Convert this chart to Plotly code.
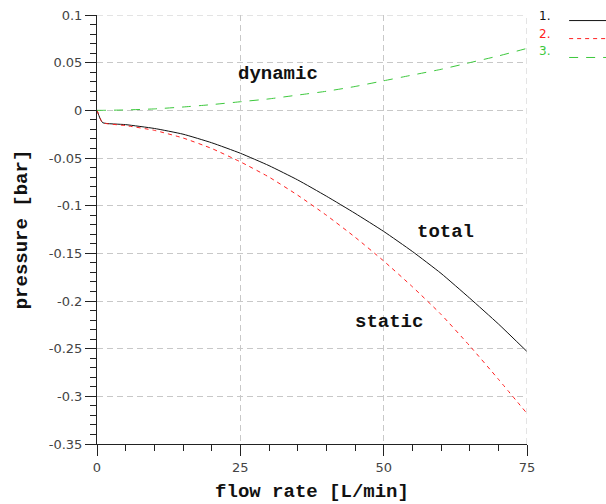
import plotly.graph_objects as go

flow = [0, 0.5, 1, 5, 10, 15, 20, 25, 30, 35, 40, 45, 50, 55, 60, 65, 70, 75]
total = [0, -0.008, -0.013, -0.015, -0.019, -0.025, -0.034, -0.045, -0.058, -0.073,
         -0.090, -0.108, -0.127, -0.148, -0.171, -0.197, -0.224, -0.253]
static = [0, -0.008, -0.013, -0.016, -0.021, -0.029, -0.040, -0.054, -0.070, -0.089,
          -0.110, -0.133, -0.158, -0.185, -0.214, -0.247, -0.282, -0.318]
dynamic = [0, 0, 0, 0.0004, 0.0015, 0.0035, 0.006, 0.009, 0.012, 0.016,
           0.020, 0.025, 0.031, 0.037, 0.043, 0.050, 0.057, 0.065]

series_names = ["1.", "2.", "3."]
series_colors = ["#111111", "#ff2020", "#3cc83c"]
series_dash = ["solid", "4px,4px", "9px,8px"]
curve_labels = ["dynamic", "total", "static"]
label_pos = [(31.6, 0.038), (60.7, -0.128), (51.0, -0.222)]

xticks = [0, 25, 50, 75]
yticks = [0.1, 0.05, 0, -0.05, -0.1, -0.15, -0.2, -0.25, -0.3, -0.35]
ytick_text = ["0.1", "0.05", "0", "-0.05", "-0.1", "-0.15", "-0.2", "-0.25", "-0.3", "-0.35"]

fig = go.Figure()
for y, name, c, d in zip([total, static, dynamic], series_names, series_colors, series_dash):
    fig.add_trace(go.Scatter(x=flow, y=y, mode="lines", name=name,
                             line=dict(color=c, width=1, dash=d, shape="spline", smoothing=0.5),
                             showlegend=False))

mono = dict(family="Liberation Mono", size=19, color="#111111")
for txt, (lx, ly) in zip(curve_labels, label_pos):
    fig.add_annotation(x=lx, y=ly, text="<b>%s</b>" % txt, showarrow=False, font=mono)

# legend (manual)
leg_y_text = [0.998, 0.956, 0.916]
leg_y_line = [0.987, 0.945, 0.901]
for name, c, d, yt, yl in zip(series_names, series_colors, series_dash, leg_y_text, leg_y_line):
    fig.add_annotation(xref="paper", yref="paper", x=1.023, y=yt, text=name, yanchor="middle",
                       showarrow=False, xanchor="left", font=dict(family="DejaVu Sans", size=12, color=c))
    fig.add_shape(type="line", xref="paper", yref="paper", x0=1.098, x1=1.185, y0=yl, y1=yl,
                  line=dict(color=c, width=1, dash=d))

axis_common = dict(showline=True, linecolor="#222222", linewidth=1, mirror=False, automargin=False,
                   showgrid=True, gridcolor="#c8c8c8", griddash="6px,4px", gridwidth=1,
                   zeroline=False, ticks="outside", ticklen=11, tickcolor="#222222",
                   tickfont=dict(family="DejaVu Sans", size=13, color="#444444"))

fig.update_xaxes(range=[0, 75], tickvals=xticks, **axis_common,
                 minor=dict(dtick=5, ticks="outside", ticklen=6, tickcolor="#222222", showgrid=False),
                 title=dict(text="<b>flow rate [L/min]</b>", font=mono, standoff=10))
fig.update_yaxes(range=[-0.35, 0.1], tickvals=yticks, ticktext=ytick_text, **axis_common,
                 minor=dict(dtick=0.01, tick0=0, ticks="outside", ticklen=6, tickcolor="#222222", showgrid=False),
                 title=dict(text="<b>pressure [bar]</b>", font=mono, standoff=16))

# right/top dashed borders
fig.add_shape(type="line", xref="x", yref="paper", x0=75, x1=75, y0=0, y1=1,
              line=dict(color="#c8c8c8", width=1, dash="6px,4px"))
fig.add_shape(type="line", xref="paper", yref="y", x0=0, x1=1, y0=0.1, y1=0.1,
              line=dict(color="#c8c8c8", width=1, dash="6px,4px"))

fig.update_layout(width=606, height=504, margin=dict(l=97, r=79, t=15, b=60),
                  plot_bgcolor="white", paper_bgcolor="white", showlegend=False)

fig.write_html("out.html")
